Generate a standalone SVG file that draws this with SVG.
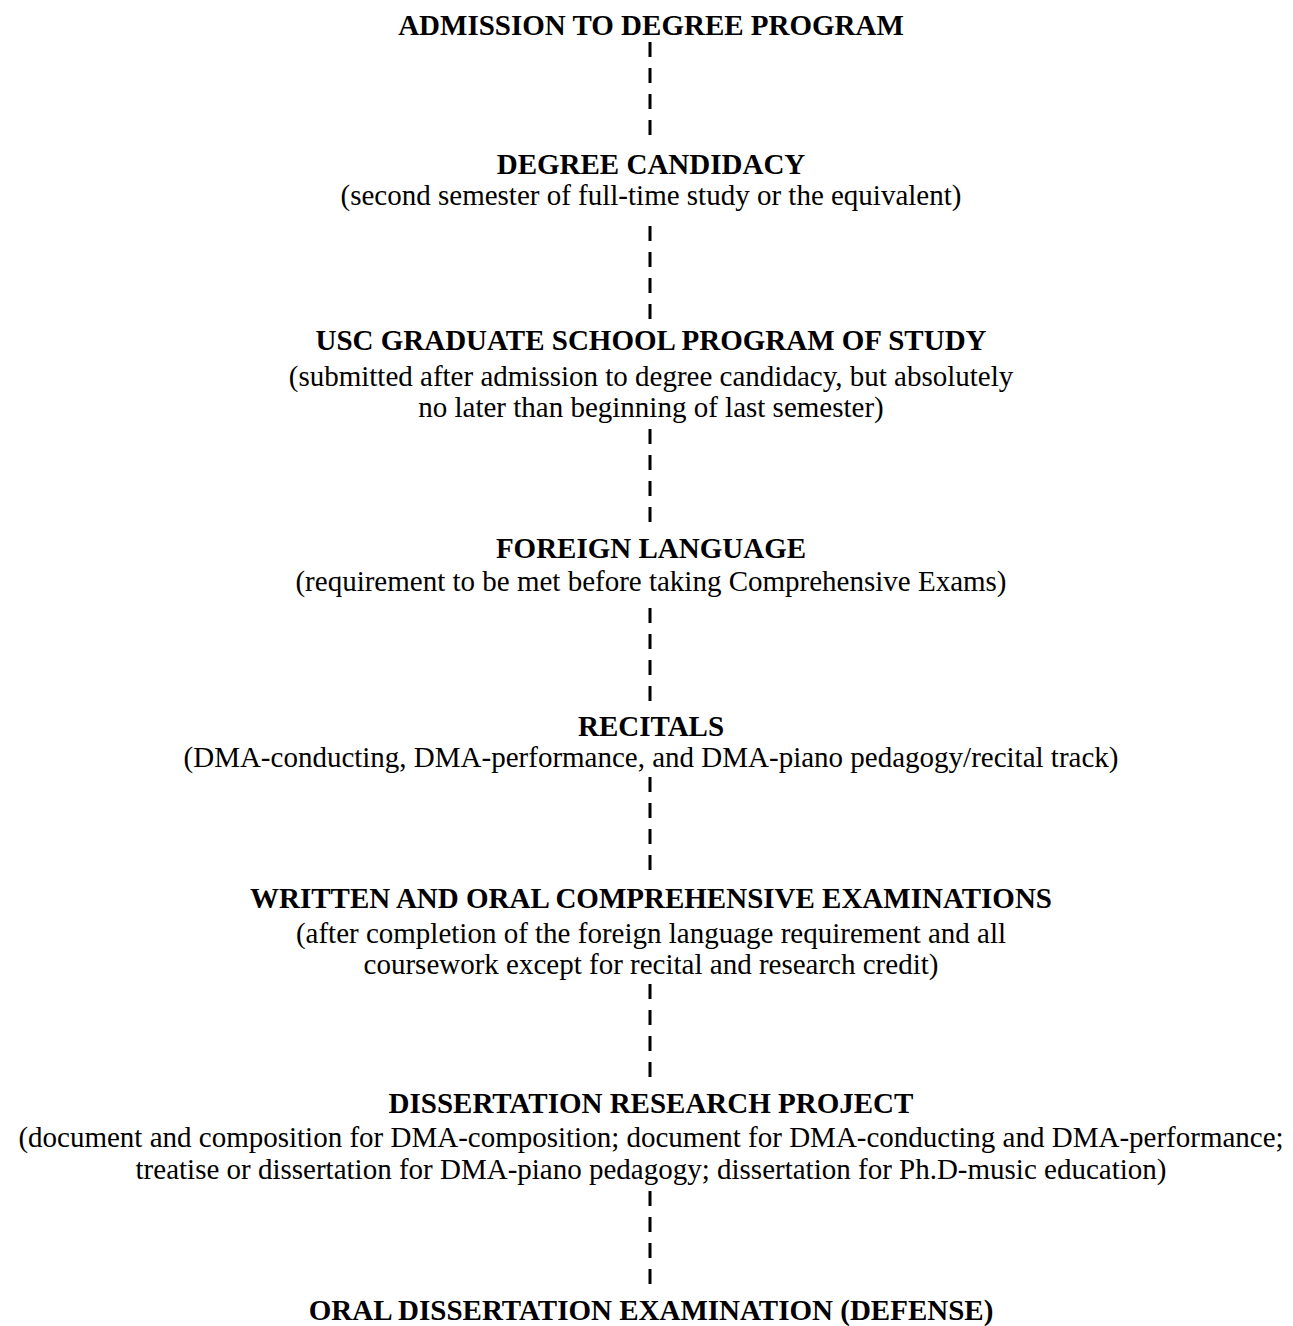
<svg xmlns="http://www.w3.org/2000/svg" width="1293" height="1326" viewBox="0 0 1293 1326">
<style>
text{font-family:"Liberation Serif","Times New Roman",serif;font-size:29px;fill:#000;text-anchor:middle}
.h{font-weight:bold}
.c{stroke:#000;stroke-width:3;stroke-dasharray:15 11;fill:none}
</style>
<rect width="1293" height="1326" fill="#fff"/>
<g id="connectors">
<path class="c" d="M650 42V135"/>
<path class="c" d="M650 226V319"/>
<path class="c" d="M650 429V522"/>
<path class="c" d="M650 608V701"/>
<path class="c" d="M650 777V870"/>
<path class="c" d="M650 984V1077"/>
<path class="c" d="M650 1191V1284"/>
</g>
<g id="n1"><text class="h" x="651" y="35">ADMISSION TO DEGREE PROGRAM</text></g>
<g id="n2"><text class="h" x="651" y="174">DEGREE CANDIDACY</text><text x="651" y="205">(second semester of full-time study or the equivalent)</text></g>
<g id="n3"><text class="h" x="651" y="350">USC GRADUATE SCHOOL PROGRAM OF STUDY</text><text x="651" y="386">(submitted after admission to degree candidacy, but absolutely</text><text x="651" y="417">no later than beginning of last semester)</text></g>
<g id="n4"><text class="h" x="651" y="558">FOREIGN LANGUAGE</text><text x="651" y="591">(requirement to be met before taking Comprehensive Exams)</text></g>
<g id="n5"><text class="h" x="651" y="736">RECITALS</text><text x="651" y="767">(DMA-conducting, DMA-performance, and DMA-piano pedagogy/recital track)</text></g>
<g id="n6"><text class="h" x="651" y="908">WRITTEN AND ORAL COMPREHENSIVE EXAMINATIONS</text><text x="651" y="943">(after completion of the foreign language requirement and all</text><text x="651" y="974">coursework except for recital and research credit)</text></g>
<g id="n7"><text class="h" x="651" y="1113">DISSERTATION RESEARCH PROJECT</text><text x="651" y="1147">(document and composition for DMA-composition; document for DMA-conducting and DMA-performance;</text><text x="651" y="1179">treatise or dissertation for DMA-piano pedagogy; dissertation for Ph.D-music education)</text></g>
<g id="n8"><text class="h" x="651" y="1320">ORAL DISSERTATION EXAMINATION (DEFENSE)</text></g>
</svg>
